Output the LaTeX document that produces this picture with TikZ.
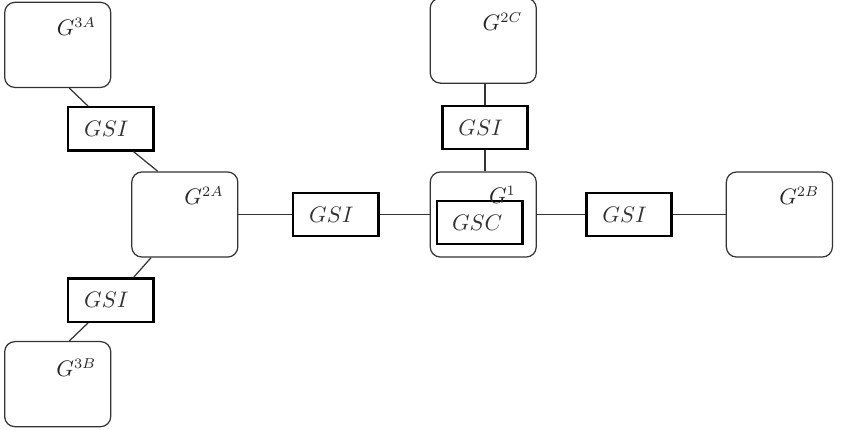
\documentclass[tikz,border=0pt]{standalone}
\usepackage{tikz}
\usetikzlibrary{positioning, calc}
\definecolor{gline}{HTML}{333333}

\begin{document}
\begin{tikzpicture}[
      g/.style={draw=gline, semithick, rounded corners=5pt, minimum width=1.82cm, minimum height=1.46cm},
      gs/.style={draw=black, very thick, minimum width=1.46cm, minimum height=0.74cm, inner xsep=0.27cm, text width=0.91cm, align=left, text=black!80, font=\fontsize{10.5pt}{12pt}\selectfont},
      lbl/.style={text=black!85, inner sep=0pt, font=\fontsize{10.5pt}{12pt}\selectfont},
      ln/.style={draw=gline, semithick}]
    \useasboundingbox (0,0) rectangle (14.65,7.36);
    % central row
    \node[g] (g2a) at (3.17,3.68) {};
    \node[gs] (gsic) at (5.76,3.68) {$GSI$};
    \node[g] (g1) at (8.29,3.68) {};
    \node[gs] (gsie) at (10.79,3.68) {$GSI$};
    \node[g] (g2b) at (13.37,3.68) {};
    \node[gs, text width=0.95cm, inner xsep=0.25cm] (gsc) at ($(g1)+(-0.06,-0.14)$) {$GSC$};
    % upper branch
    \node[gs, above=0.36cm of g1, xshift=0.03cm] (gsid) {$GSI$};
    \node[g, above=0.36cm of gsid, xshift=-0.03cm] (g2c) {};
    % left branch
    \node[gs] (gsia) at (1.90,5.15) {$GSI$};
    \node[g] (g3a) at (0.99,6.59) {};
    \node[gs] (gsib) at (1.90,2.21) {$GSI$};
    \node[g] (g3b) at (0.99,0.77) {};
    % labels
    \node[lbl] (l2a) at ($(g2a)+(0.33,0.32)$) {$G^{2A}$};
    \node[lbl] (l1) at ($(g1)+(0.33,0.33)$) {$G^{1}$};
    \node[lbl] (l2b) at ($(g2b)+(0.34,0.32)$) {$G^{2B}$};
    \node[lbl] (l2c) at ($(g2c)+(0.33,0.32)$) {$G^{2C}$};
    \node[lbl] (l3a) at ($(g3a)+(0.32,0.32)$) {$G^{3A}$};
    \node[lbl] (l3b) at ($(g3b)+(0.32,0.29)$) {$G^{3B}$};
    % connectors
    \draw[ln] (g2a)--(gsic); \draw[ln] (gsic)--(g1);
    \draw[ln] (g1)--(gsie); \draw[ln] (gsie)--(g2b);
    \draw[ln] (gsid.south)--(gsid.south |- g1.north); \draw[ln] (gsid.north)--(gsid.north |- g2c.south);
    \draw[ln] (g3a.-75.5)--(gsia.135); \draw[ln] (gsia.-45)--(g2a.122);
    \draw[ln] (g2a.-128)--(gsib.45); \draw[ln] (gsib.-135)--(g3b.75.5);
  \end{tikzpicture}
\end{document}
